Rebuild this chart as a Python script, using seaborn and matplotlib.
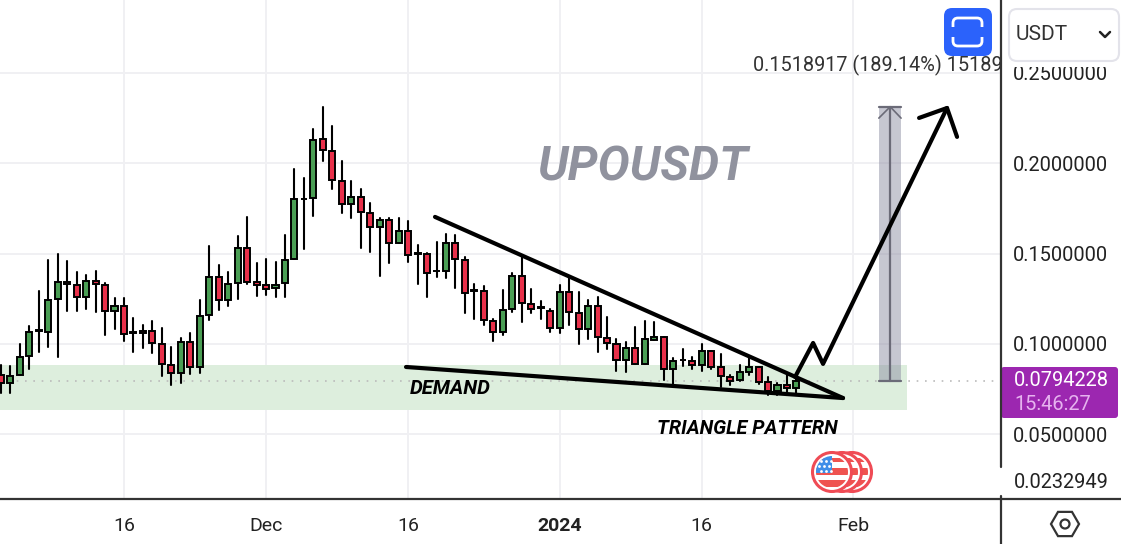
import numpy as np
import pandas as pd
import seaborn as sns
import matplotlib.pyplot as plt
from matplotlib.patches import Rectangle, FancyBboxPatch, Circle, Polygon

sns.set_theme(style='white')
plt.rcParams['font.family'] = ['Roboto', 'DejaVu Sans']

# days are counted from 16 Nov 2023
days = np.arange(-13, 72)
open_ = [.0828,.0785,.0828,.0933,.1070,.1064,.1249,.1345,.1328,.1260,.1350,.1328,.1182,.1212,.1064,.1073,.1073,.1001,.0883,.0837,
         .1012,.0870,.1158,.1372,.1241,.1337,.1533,.1345,.1324,.1308,.1337,.1470,.1800,.1808,.2135,.2068,.1904,.1773,.1813,.1727,
         .1647,.1688,.1559,.1627,.1503,.1496,.1404,.1404,.1559,.1467,.1297,.1295,.1129,.1066,.1193,.1378,.1223,.1203,.1184,.1086,
         .1286,.1173,.1083,.1212,.1035,.1001,.0911,.0979,.0891,.1020,.1040,.0859,.0909,.0907,.0883,.0961,.0874,.0819,.0800,.0846,
         .0874,.0791,.0741,.0774,.0756]
close = [.0785,.0822,.0929,.1068,.1077,.1243,.1345,.1330,.1260,.1350,.1330,.1182,.1212,.1055,.1060,.1060,.1003,.0887,.0837,.1012,
         .0870,.1155,.1372,.1241,.1334,.1533,.1345,.1324,.1306,.1328,.1467,.1804,.1804,.2129,.2074,.1908,.1775,.1815,.1730,.1647,
         .1688,.1559,.1627,.1492,.1498,.1393,.1406,.1559,.1470,.1282,.1295,.1132,.1066,.1190,.1378,.1228,.1193,.1201,.1086,.1286,
         .1177,.1081,.1212,.1036,.1003,.0911,.0979,.0891,.1025,.1038,.0859,.0907,.0913,.0883,.0961,.0874,.0821,.0795,.0846,.0874,
         .0791,.0741,.0774,.0754,.0795]
high = [.0883,.0878,.1000,.1099,.1293,.1465,.1498,.1457,.1396,.1380,.1402,.1336,.1252,.1252,.1142,.1105,.1127,.1088,.0983,.1031,
        .1059,.1243,.1542,.1437,.1398,.1598,.1703,.1448,.1470,.1454,.1603,.1967,.1917,.2188,.2310,.2207,.2011,.1900,.1856,.1778,
        .1695,.1695,.1695,.1679,.1548,.1502,.1563,.1607,.1601,.1479,.1330,.1319,.1140,.1297,.1395,.1492,.1304,.1240,.1192,.1324,
        .1363,.1286,.1243,.1258,.1147,.1029,.1012,.1092,.1125,.1120,.1040,.0920,.0972,.0929,.0998,.0961,.0942,.0830,.0881,.0929,
        .0874,.0815,.0785,.0832,.0828]
low = [.0726,.0730,.0828,.0863,.0957,.0985,.0926,.1184,.1184,.1195,.1179,.1049,.1084,.1018,.0957,.0979,.0952,.0824,.0774,.0785,
       .0835,.0841,.1132,.1188,.1210,.1249,.1334,.1265,.1273,.1262,.1262,.1468,.1527,.1710,.2015,.1856,.1727,.1699,.1533,.1511,
       .1378,.1450,.1559,.1455,.1334,.1262,.1372,.1367,.1311,.1173,.1140,.1107,.1018,.1049,.1179,.1123,.1173,.1140,.1068,.1062,
       .1105,.1000,.1029,.0957,.0974,.0852,.0846,.0887,.0887,.1020,.0802,.0771,.0880,.0863,.0852,.0863,.0760,.0773,.0795,.0830,
       .0780,.0715,.0715,.0736,.0723]

price_ticks = [.05, .10, .15, .20, .25]
price_labels = ['0.0500000', '0.1000000', '0.1500000', '0.2000000', '0.2500000']
date_ticks = [0, 15, 30, 46, 61, 77]
date_labels = ['16', 'Dec', '16', '2024', '16', 'Feb']
last_price = 0.0794228

upper_trend_x = [32.84, 75.92]
upper_trend_y = [.1703, .0700]
lower_trend_x = [29.78, 75.92]
lower_trend_y = [.0872, .0700]
path_x = [70.86, 72.76, 73.81, 86.9]
path_y = [.0817, .1005, .0889, .2306]
head_x = [83.95, 86.9, 87.96]
head_y = [.2251, .2306, .2146]

GREEN = '#4a9e54'
RED = '#e8304a'

df = pd.DataFrame({'day': days, 'open': open_, 'close': close, 'high': high, 'low': low})
wicks = df.melt(id_vars='day', value_vars=['high', 'low'], value_name='price')

fig = plt.figure(figsize=(11.21, 5.44), dpi=100)
ax = fig.add_axes([0, 45 / 544, 1001 / 1121, 499 / 544])

# demand zone and last price line
ax.axhspan(.0634, .0883, xmax=(82.68 + 13.09) / (92.6 + 13.09), color='#ddeedd', lw=0, zorder=1)
ax.axhline(last_price, color='#bbbbbb', lw=1.2, ls=(0, (1, 4)), zorder=1.5)

# measure tool
ax.add_patch(Rectangle((79.7, last_price), 2.35, .1519, color='#8f90a5', alpha=.5, lw=0, zorder=2))
ax.plot([80.9, 80.9], [last_price, .2313], color='#6b6b78', lw=1.6, zorder=2.1)
ax.plot([79.7, 82.05], [.2313, .2313], color='#6b6b78', lw=1.6, zorder=2.1)
ax.plot([79.7, 82.05], [last_price, last_price], color='#6b6b78', lw=1.6, zorder=2.1)
ax.plot([79.7, 80.9, 82.05], [.2250, .2313, .2250], color='#6b6b78', lw=1.2, zorder=2.1)

# candles
sns.lineplot(data=wicks, x='day', y='price', units='day', estimator=None, color='black',
             lw=1.5, legend=False, ax=ax, zorder=3)
up = df['close'] >= df['open']
ax.bar(df['day'], (df['close'] - df['open']).abs(), bottom=df[['open', 'close']].min(axis=1), width=.64,
       color=np.where(up, GREEN, RED), edgecolor='black', lw=1.4, zorder=4)

# drawn lines
for xs, ys in [(upper_trend_x, upper_trend_y), (lower_trend_x, lower_trend_y), (path_x, path_y), (head_x, head_y)]:
    ax.plot(xs, ys, color='black', lw=3, solid_capstyle='round', zorder=5)

ax.text(54.8, .1974, 'UPOUSDT', color='#90929e', fontsize=34.5, fontweight='bold', style='italic',
        ha='center', va='center', zorder=5)
ax.text(30.2, .0751, 'DEMAND', color='black', fontsize=14.6, fontweight='bold', style='italic', va='center', zorder=5)
ax.text(56.3, .0530, 'TRIANGLE PATTERN', color='black', fontsize=14.2, fontweight='bold', style='italic', va='center', zorder=5)
ax.text(66.4, .2540, '0.1518917 (189.14%) 15189', color='#333333', fontsize=14.3, va='center', clip_on=True, zorder=5)

ax.set_xlim(-13.09, 92.6)
ax.set_ylim(.0141, .2904)
ax.set_xlabel('')
ax.set_ylabel('')
ax.set_xticks(date_ticks)
ax.set_xticklabels(date_labels, fontsize=14, color='#222222')
ax.get_xticklabels()[3].set_fontweight('bold')
ax.yaxis.tick_right()
ax.set_yticks(price_ticks)
ax.set_yticklabels(price_labels, fontsize=14.4, color='#222222')
ax.tick_params(axis='y', length=0, pad=8.5)
ax.tick_params(axis='x', length=0, pad=13)
ax.grid(True, color='#f0f0f3', lw=1.4)
ax.set_axisbelow(True)
sns.despine(ax=ax, left=True, bottom=True, right=True, top=True)

# widgets around the chart, in picture pixels
ui = fig.add_axes([0, 0, 1, 1], zorder=10)
ui.set_xlim(0, 1121)
ui.set_ylim(544, 0)
ui.axis('off')
ui.patch.set_alpha(0)

ui.plot([0, 1121], [499, 499], color='#333333', lw=1.6)
ui.plot([1001, 1001], [0, 467], color='#333333', lw=1.6)
ui.plot([1001, 1001], [496, 544], color='#333333', lw=1.6)

ui.add_patch(Rectangle((1003, 0), 118, 67, color='white', lw=0))
ui.add_patch(FancyBboxPatch((1012, 12), 104, 46, boxstyle='round,pad=3,rounding_size=8',
                            fc='white', ec='#e3e3ea', lw=1.5))
ui.text(1016, 34, 'USDT', fontsize=15, color='#333333', va='center')
ui.plot([1100, 1105, 1110], [32, 37, 32], color='#222222', lw=1.8)

ui.add_patch(FancyBboxPatch((949, 13), 38, 38, boxstyle='round,pad=5,rounding_size=8', fc='#2b62fb', ec='none'))
ui.add_patch(FancyBboxPatch((953, 18), 29, 28, boxstyle='round,pad=0,rounding_size=5', fc='none', ec='white', lw=2))
ui.add_patch(Rectangle((950, 27), 36, 10, color='#2b62fb', lw=0))

ui.add_patch(FancyBboxPatch((1004, 370), 111, 45, boxstyle='round,pad=3,rounding_size=3', fc='#9c27b0', ec='none'))
ui.text(1014, 381, '0.0794228', fontsize=14.4, color='white', va='center')
ui.text(1014, 404, '15:46:27', fontsize=14.4, color='#e6b3ef', va='center')
ui.text(1014, 483, '0.0232949', fontsize=14.4, color='#222222', va='center')

# event flags, back to front
for cx in (852, 842, 832):
    ui.add_patch(Circle((cx, 472), 19.5, fc='white', ec='#ef4b55', lw=2.2))
    flag = Circle((cx, 472), 16, fc='none', ec='none')
    ui.add_patch(flag)
    for top, h in [(458, 4), (468, 7), (480, 7)]:
        ui.add_patch(Rectangle((cx - 17, top), 34, h, color='#ef5350', lw=0, clip_path=flag))
    ui.add_patch(Rectangle((cx - 17, 456), 17, 17, color='#3f8ee8', lw=0, clip_path=flag))
star_x = [821, 826, 831, 819, 824, 829, 821, 826, 831]
star_y = [461, 461, 461, 466, 466, 466, 471, 471, 471]
ui.scatter(star_x, star_y, s=4, color='white', lw=0, zorder=5)

# settings icon
hex_angles = np.radians(np.arange(0, 360, 60))
ui.add_patch(Polygon(np.c_[1065 + 14 * np.cos(hex_angles), 524 + 14 * np.sin(hex_angles)], fc='none', ec='#333333', lw=1.6))
ui.add_patch(Circle((1065, 524), 4.5, fc='none', ec='#333333', lw=1.6))

fig.savefig('out.png', dpi=100)
